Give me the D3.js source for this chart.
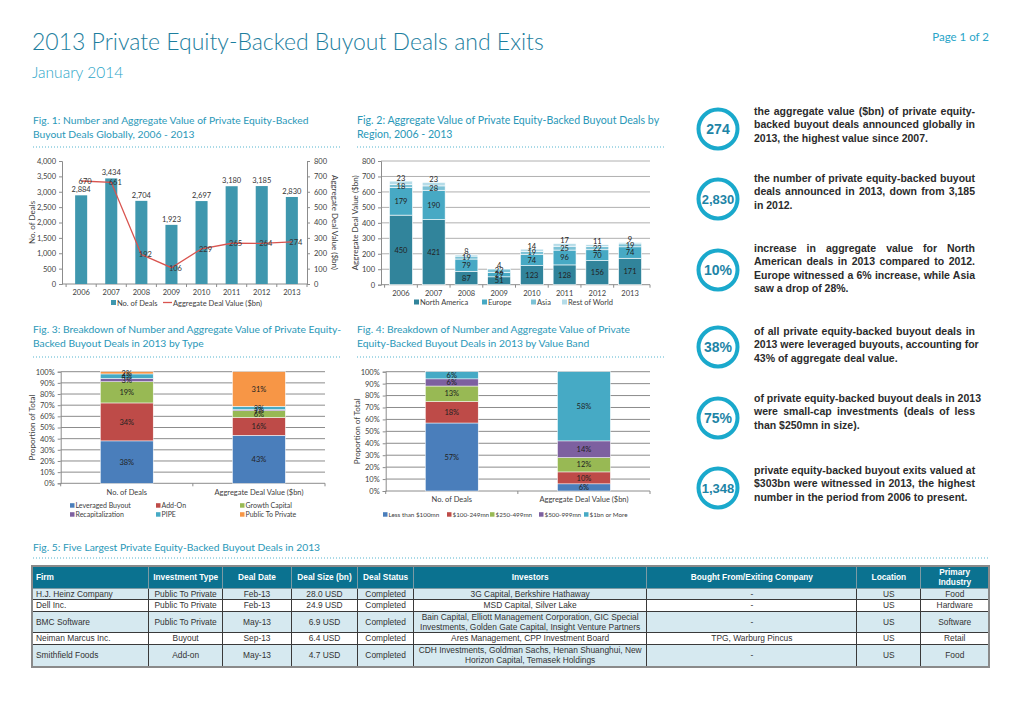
<!DOCTYPE html>
<html><head><meta charset="utf-8">
<script src="https://cdn.jsdelivr.net/npm/d3@7"></script>
<style>
body{margin:0;background:#fff;width:1020px;height:721px;overflow:hidden;position:relative;font-family:Lato,'Open Sans',sans-serif;}
svg{position:absolute;left:0;top:0;}
.note{position:absolute;left:754px;width:221px;font:bold 10.5px 'Liberation Sans',Arial,sans-serif;color:#2b2b2b;line-height:13.4px;}
.note .j{text-align:justify;text-align-last:justify;white-space:nowrap;}
.note .l{text-align:left;white-space:nowrap;}
table{position:absolute;left:31px;top:565px;width:959px;border-collapse:collapse;table-layout:fixed;font:8.4px 'Liberation Sans',Arial,sans-serif;color:#333;border:2px solid #8a8a8a;}
td,th{border:1px solid #3a3a3a;padding:0 2px;text-align:center;line-height:10.4px;white-space:pre;overflow:hidden;}
th{background:#0b7290;color:#fff;font-weight:bold;font-size:8.3px;border-color:#7c9aa4;line-height:10.4px;}
td.first,th.first{text-align:left;padding-left:3px;}
tr.alt td{background:#d6e9f0;}
</style></head><body>
<svg id="c" width="1020" height="721"></svg>
<div id="notes"></div>
<script>
// ---------- DATA ----------
const years = ["2006","2007","2008","2009","2010","2011","2012","2013"];
const dealCounts = [2884,3434,2704,1923,2697,3180,3185,2830];
const dealValues = [670,661,192,106,229,265,264,274];
const countTicks = [0,500,1000,1500,2000,2500,3000,3500,4000];
const valueTicks = [0,100,200,300,400,500,600,700,800];

const regions = ["North America","Europe","Asia","Rest of World"];
const northAmerica = [450,421,87,51,123,128,156,171];
const europe = [179,190,79,29,74,96,70,74];
const asia = [18,28,19,22,19,25,22,19];
const restOfWorld = [23,23,8,4,14,17,11,9];

const shareCategories = ["No. of Deals","Aggregate Deal Value ($bn)"];
const pctTicks = [0,10,20,30,40,50,60,70,80,90,100];
const dealTypes = ["Leveraged Buyout","Add-On","Growth Capital","Recapitalization","PIPE","Public To Private"];
const typeShareDeals = [38,34,19,3,4,2];
const typeShareValue = [43,16,6,1,3,31];

const valueBands = ["Less than $100mn","$100-249mn","$250-499mn","$500-999mn","$1bn or More"];
const bandShareDeals = [57,18,13,6,6];
const bandShareValue = [6,10,12,14,58];

const keyFigures = ["274","2,830","10%","38%","75%","1,348"];
const keyTexts = [
 ["the aggregate value ($bn) of private equity-","backed buyout deals announced globally in","2013, the highest value since 2007."],
 ["the number of private equity-backed buyout","deals announced in 2013, down from 3,185","in 2012."],
 ["increase in aggregate value for North","American deals in 2013 compared to 2012.","Europe witnessed a 6% increase, while Asia","saw a drop of 28%."],
 ["of all private equity-backed buyout deals in","2013 were leveraged buyouts, accounting for","43% of aggregate deal value."],
 ["of private equity-backed buyout deals in 2013","were small-cap investments (deals of less","than $250mn in size)."],
 ["private equity-backed buyout exits valued at","$303bn were witnessed in 2013, the highest","number in the period from 2006 to present."]
];

const tableHeaders = ["Firm","Investment Type","Deal Date","Deal Size (bn)","Deal Status","Investors","Bought From/Exiting Company","Location","Primary\nIndustry"];
const firms = ["H.J. Heinz Company","Dell Inc.","BMC Software","Neiman Marcus Inc.","Smithfield Foods"];
const investmentTypes = ["Public To Private","Public To Private","Public To Private","Buyout","Add-on"];
const dealDates = ["Feb-13","Feb-13","May-13","Sep-13","May-13"];
const dealSizes = ["28.0 USD","24.9 USD","6.9 USD","6.4 USD","4.7 USD"];
const dealStatus = ["Completed","Completed","Completed","Completed","Completed"];
const investors = ["3G Capital, Berkshire Hathaway","MSD Capital, Silver Lake","Bain Capital, Elliott Management Corporation, GIC Special\nInvestments, Golden Gate Capital, Insight Venture Partners","Ares Management, CPP Investment Board","CDH Investments, Goldman Sachs, Henan Shuanghui, New\nHorizon Capital, Temasek Holdings"];
const boughtFrom = ["-","-","-","TPG, Warburg Pincus","-"];
const locations = ["US","US","US","US","US"];
const industries = ["Food","Hardware","Software","Retail","Food"];

// ---------- STYLE ----------
const TEAL_T = "#1c7e9e", TEAL_L = "#2aa5c8", FIGT = "#2a98b8";
const svg = d3.select("#c");
const tickFont = 7.5;

function styleAxis(g){
  g.selectAll(".domain").attr("stroke","#8c8c8c");
  g.selectAll(".tick line").attr("stroke","#8c8c8c");
  g.selectAll("text").attr("font-size",tickFont).attr("fill","#404040").attr("font-family","Lato,sans-serif");
}
function dotted(x1,x2,y){
  svg.append("line").attr("x1",x1).attr("x2",x2).attr("y1",y).attr("y2",y)
   .attr("stroke","#55b4cf").attr("stroke-width",1).attr("stroke-dasharray","1,2");
}
function figTitle(x,y,lines,size){
  const t = svg.append("text").attr("x",x).attr("y",y).attr("fill",FIGT).attr("font-size",size||10.3);
  lines.forEach((l,i)=>t.append("tspan").attr("x",x).attr("dy",i?14:0).text(l));
}

// ---------- HEADER ----------
svg.append("text").attr("x",32).attr("y",50).attr("fill",TEAL_T).attr("font-size",23).attr("font-weight",300)
  .text("2013 Private Equity-Backed Buyout Deals and Exits");
svg.append("text").attr("x",32).attr("y",78).attr("fill",TEAL_L).attr("font-size",15.5).attr("font-weight",300).text("January 2014");
svg.append("text").attr("x",989).attr("y",41).attr("text-anchor","end").attr("fill",TEAL_L).attr("font-size",11.5).text("Page 1 of 2");

figTitle(33,124,["Fig. 1: Number and Aggregate Value of Private Equity-Backed","Buyout Deals Globally, 2006 - 2013"]);
dotted(33,340,147);
figTitle(357,124,["Fig. 2: Aggregate Value of Private Equity-Backed Buyout Deals by","Region, 2006 - 2013"],10.6);
dotted(357,665,147);
figTitle(33,333,["Fig. 3: Breakdown of Number and Aggregate Value of Private Equity-","Backed Buyout Deals in 2013 by Type"]);
dotted(33,340,357);
figTitle(357,333,["Fig. 4: Breakdown of Number and Aggregate Value of Private","Equity-Backed Buyout Deals in 2013 by Value Band"]);
dotted(357,665,357);
figTitle(33,551,["Fig. 5: Five Largest Private Equity-Backed Buyout Deals in 2013"]);
dotted(33,990,558);

// ---------- FIG 1 ----------
(function(){
  const L=62,R=307,B=284,T=161;
  const x = d3.scaleBand().domain(years).range([L+2,R+2]).paddingInner(0.6).paddingOuter(0.37);
  const yL = d3.scaleLinear().domain([0,4000]).range([B,T]);
  const yR = d3.scaleLinear().domain([0,800]).range([B,T]);
  const g = svg.append("g");
  g.append("g").attr("transform",`translate(${L},0)`).call(d3.axisLeft(yL).tickValues(countTicks).tickFormat(d3.format(",")).tickSize(3).tickPadding(3)).call(styleAxis);
  g.append("g").attr("transform",`translate(${R},0)`).call(d3.axisRight(yR).tickValues(valueTicks).tickSize(3).tickPadding(4)).call(styleAxis);
  const xa = g.append("g").attr("transform",`translate(0,${B})`).call(d3.axisBottom(x).tickSize(0).tickPadding(6)).call(styleAxis);
  xa.select(".domain").attr("d",`M${L},0H${R}`);
  const step = x.step();
  years.forEach((d,i)=>{ const bx = x(d)-(step-x.bandwidth())/2; g.append("line").attr("x1",bx).attr("x2",bx).attr("y1",B).attr("y2",B+3).attr("stroke","#8c8c8c");});
  g.append("line").attr("x1",R).attr("x2",R).attr("y1",B).attr("y2",B+3).attr("stroke","#8c8c8c");
  g.selectAll(".bar").data(years).join("rect").attr("x",d=>x(d)).attr("width",x.bandwidth())
    .attr("y",(d,i)=>yL(dealCounts[i])).attr("height",(d,i)=>B-yL(dealCounts[i])).attr("fill","#3f97ae");
  g.selectAll(".bl").data(years).join("text").attr("x",d=>x(d)+x.bandwidth()/2).attr("y",(d,i)=>yL(dealCounts[i])-3)
    .attr("text-anchor","middle").attr("font-size",tickFont).attr("fill","#333").text((d,i)=>d3.format(",")(dealCounts[i]));
  const line = d3.line().x((d,i)=>x(years[i])+x.bandwidth()/2).y(d=>yR(d));
  g.append("path").datum(dealValues).attr("d",line).attr("fill","none").attr("stroke","#d9544f").attr("stroke-width",1.3);
  g.selectAll(".ll").data(dealValues).join("text").attr("x",(d,i)=>x(years[i])+x.bandwidth()/2+4).attr("y",d=>yR(d)+3)
    .attr("text-anchor","middle").attr("font-size",tickFont).attr("fill","#333").text(d=>d);
  g.append("text").attr("transform",`translate(35,${(B+T)/2}) rotate(-90)`).attr("text-anchor","middle").attr("font-size",8).attr("fill","#404040").text("No. of Deals");
  g.append("text").attr("transform",`translate(332,${(B+T)/2}) rotate(90)`).attr("text-anchor","middle").attr("font-size",8).attr("fill","#404040").text("Aggregate Deal Value ($bn)");
  g.append("rect").attr("x",111).attr("y",300).attr("width",5).attr("height",5).attr("fill","#3f97ae");
  g.append("text").attr("x",117).attr("y",305.5).attr("font-size",tickFont).attr("fill","#404040").text("No. of Deals");
  g.append("line").attr("x1",163).attr("x2",172).attr("y1",302.5).attr("y2",302.5).attr("stroke","#d9544f").attr("stroke-width",1.3);
  g.append("text").attr("x",173).attr("y",305.5).attr("font-size",tickFont).attr("fill","#404040").text("Aggregate Deal Value ($bn)");
})();

// ---------- FIG 2 ----------
(function(){
  const L=381,R=650,B=284.7,T=161;
  const x = d3.scaleBand().domain(years).range([L,R]).paddingInner(0.3).paddingOuter(0.26);
  const y = d3.scaleLinear().domain([0,800]).range([B,T]);
  const colors = ["#31849b","#47a9c4","#7cc2d6","#b5dce8"];
  const g = svg.append("g");
  g.append("g").selectAll("line").data(valueTicks.slice(1)).join("line").attr("x1",L).attr("x2",R).attr("y1",d=>y(d)).attr("y2",d=>y(d)).attr("stroke","#b0b0b0");
  g.append("g").attr("transform",`translate(${L},0)`).call(d3.axisLeft(y).tickValues(valueTicks).tickSize(3).tickPadding(3)).call(styleAxis);
  const xa = g.append("g").attr("transform",`translate(0,${B})`).call(d3.axisBottom(x).tickSize(0).tickPadding(6)).call(styleAxis);
  xa.select(".domain").attr("d",`M${L},0H${R}`);
  const step=x.step();
  years.forEach(d=>{ const bx=x(d)-(step-x.bandwidth())/2; g.append("line").attr("x1",bx).attr("x2",bx).attr("y1",B).attr("y2",B+3).attr("stroke","#8c8c8c");});
  g.append("line").attr("x1",R).attr("x2",R).attr("y1",B).attr("y2",B+3).attr("stroke","#8c8c8c");
  const table = years.map((yr,i)=>({year:yr,"North America":northAmerica[i],"Europe":europe[i],"Asia":asia[i],"Rest of World":restOfWorld[i]}));
  const series = d3.stack().keys(regions)(table);
  series.forEach((s,si)=>{
    g.selectAll(null).data(s).join("rect").attr("x",d=>x(d.data.year)).attr("width",x.bandwidth())
      .attr("y",d=>y(d[1])).attr("height",d=>y(d[0])-y(d[1])).attr("fill",colors[si]).attr("stroke","#fff").attr("stroke-width",0.6);
  });
  series.forEach((s,si)=>{
    const last = si===series.length-1;
    g.selectAll(null).data(s).join("text").attr("x",d=>x(d.data.year)+x.bandwidth()/2)
      .attr("y",d=>last ? y(d[1])-0.5 : (y(d[0])+y(d[1]))/2+2.7)
      .attr("text-anchor","middle").attr("font-size",tickFont).attr("fill","#222").text(d=>d[1]-d[0]);
  });
  g.append("text").attr("transform",`translate(358,${(B+T)/2}) rotate(-90)`).attr("text-anchor","middle").attr("font-size",8).attr("fill","#404040").text("Aggregate Deal Value ($bn)");
  const lx=[414,482,531,562];
  regions.forEach((r,i)=>{
    g.append("rect").attr("x",lx[i]).attr("y",299.5).attr("width",5).attr("height",5).attr("fill",colors[i]);
    g.append("text").attr("x",lx[i]+6).attr("y",305).attr("font-size",tickFont).attr("fill","#404040").text(r);
  });
})();

// ---------- FIG 3 & 4 ----------
const office = ["#4a7ebb","#be4b48","#98b954","#7d60a0","#46aac5","#f79646"];
function shareChart(opt){
  const {L,R,B,T,keys,vals,legendPos,titleX,legendFont} = opt;
  const x = d3.scaleBand().domain(shareCategories).range([L,R]).paddingInner(0.6).paddingOuter(0.3);
  const y = d3.scaleLinear().domain([0,100]).range([B,T]);
  const g = svg.append("g");
  g.append("g").selectAll("line").data(pctTicks.slice(1)).join("line").attr("x1",L).attr("x2",R).attr("y1",d=>y(d)).attr("y2",d=>y(d)).attr("stroke","#7f7f7f").attr("stroke-width",0.9);
  g.append("g").attr("transform",`translate(${L},0)`).call(d3.axisLeft(y).tickValues(pctTicks).tickFormat(d=>d+"%").tickSize(3).tickPadding(3)).call(styleAxis);
  const xa = g.append("g").attr("transform",`translate(0,${B})`).call(d3.axisBottom(x).tickSize(0).tickPadding(6)).call(styleAxis);
  xa.select(".domain").attr("d",`M${L},0H${R}`);
  [L,(L+R)/2,R].forEach(t=>g.append("line").attr("x1",t).attr("x2",t).attr("y1",B).attr("y2",B+3).attr("stroke","#8c8c8c"));
  const rows = shareCategories.map((c,ci)=>{ const o={cat:c}; keys.forEach((k,ki)=>o[k]=vals[ci][ki]); return o; });
  const series = d3.stack().keys(keys)(rows);
  series.forEach((s,si)=>{
    g.selectAll(null).data(s).join("rect").attr("x",d=>x(d.data.cat)).attr("width",x.bandwidth())
      .attr("y",d=>y(d[1])).attr("height",d=>y(d[0])-y(d[1])).attr("fill",office[si]).attr("stroke","#fff").attr("stroke-width",0.5);
  });
  series.forEach((s,si)=>{
    g.selectAll(null).data(s).join("text").attr("x",d=>x(d.data.cat)+x.bandwidth()/2).attr("y",d=>(y(d[0])+y(d[1]))/2+2.7)
      .attr("text-anchor","middle").attr("font-size",tickFont).attr("fill","#222").text(d=>(d[1]-d[0])+"%");
  });
  g.append("text").attr("transform",`translate(${titleX},${(B+T)/2}) rotate(-90)`).attr("text-anchor","middle").attr("font-size",8).attr("fill","#404040").text("Proportion of Total");
  keys.forEach((k,i)=>{
    const p = legendPos[i];
    g.append("rect").attr("x",p[0]).attr("y",p[1]-4.8).attr("width",4.5).attr("height",4.5).attr("fill",office[i]);
    g.append("text").attr("x",p[0]+5.5).attr("y",p[1]).attr("font-size",legendFont).attr("fill","#404040").text(k);
  });
}
shareChart({L:60.7,R:325,B:483.3,T:371.7,keys:dealTypes,vals:[typeShareDeals,typeShareValue],titleX:35,legendFont:7,
  legendPos:[[70,508],[156,508],[240,508],[70,517],[156,517],[240,517]]});
shareChart({L:385.7,R:650,B:491,T:371.7,keys:valueBands,vals:[bandShareDeals,bandShareValue],titleX:360,legendFont:6.3,
  legendPos:[[383,517],[447,517],[490,517],[539,517],[584,517]]});

// ---------- KEY FIGURES ----------
const cy = [129,199,270,347,418,488];
const lineTops = [114,181,251,334,401,473];
keyFigures.forEach((k,i)=>{
  svg.append("circle").attr("cx",718).attr("cy",cy[i]).attr("r",19.5).attr("fill","none").attr("stroke","#1aa9cc").attr("stroke-width",4);
  svg.append("text").attr("x",718).attr("y",cy[i]+5).attr("text-anchor","middle").attr("font-family","'Liberation Sans',Arial,sans-serif")
    .attr("font-weight","bold").attr("font-size",k.length>4?13:14).attr("fill","#1d84a6").text(k);
  const d = d3.select("#notes").append("div").attr("class","note").style("top",(lineTops[i]-9)+"px");
  keyTexts[i].forEach((t,j)=>d.append("div").attr("class",j<keyTexts[i].length-1?"j":"l").text(t));
});

// ---------- TABLE ----------
const colW = [116.5,74.3,68.4,66.6,55.7,233.4,210,64,68.3];
const rowH = [11,11,21.6,10.6,21];
const tbl = d3.select("body").append("table");
const cg = tbl.append("colgroup"); colW.forEach(w=>cg.append("col").style("width",w+"px"));
tbl.append("tr").style("height","21px").selectAll("th").data(tableHeaders).join("th").attr("class",(d,i)=>i?null:"first").text(d=>d);
firms.forEach((f,i)=>{
  const cells=[f,investmentTypes[i],dealDates[i],dealSizes[i],dealStatus[i],investors[i],boughtFrom[i],locations[i],industries[i]];
  tbl.append("tr").attr("class",i%2===0?"alt":null).style("height",rowH[i]+"px")
    .selectAll("td").data(cells).join("td").attr("class",(d,j)=>j?null:"first").text(d=>d);
});
</script>
</body></html>
